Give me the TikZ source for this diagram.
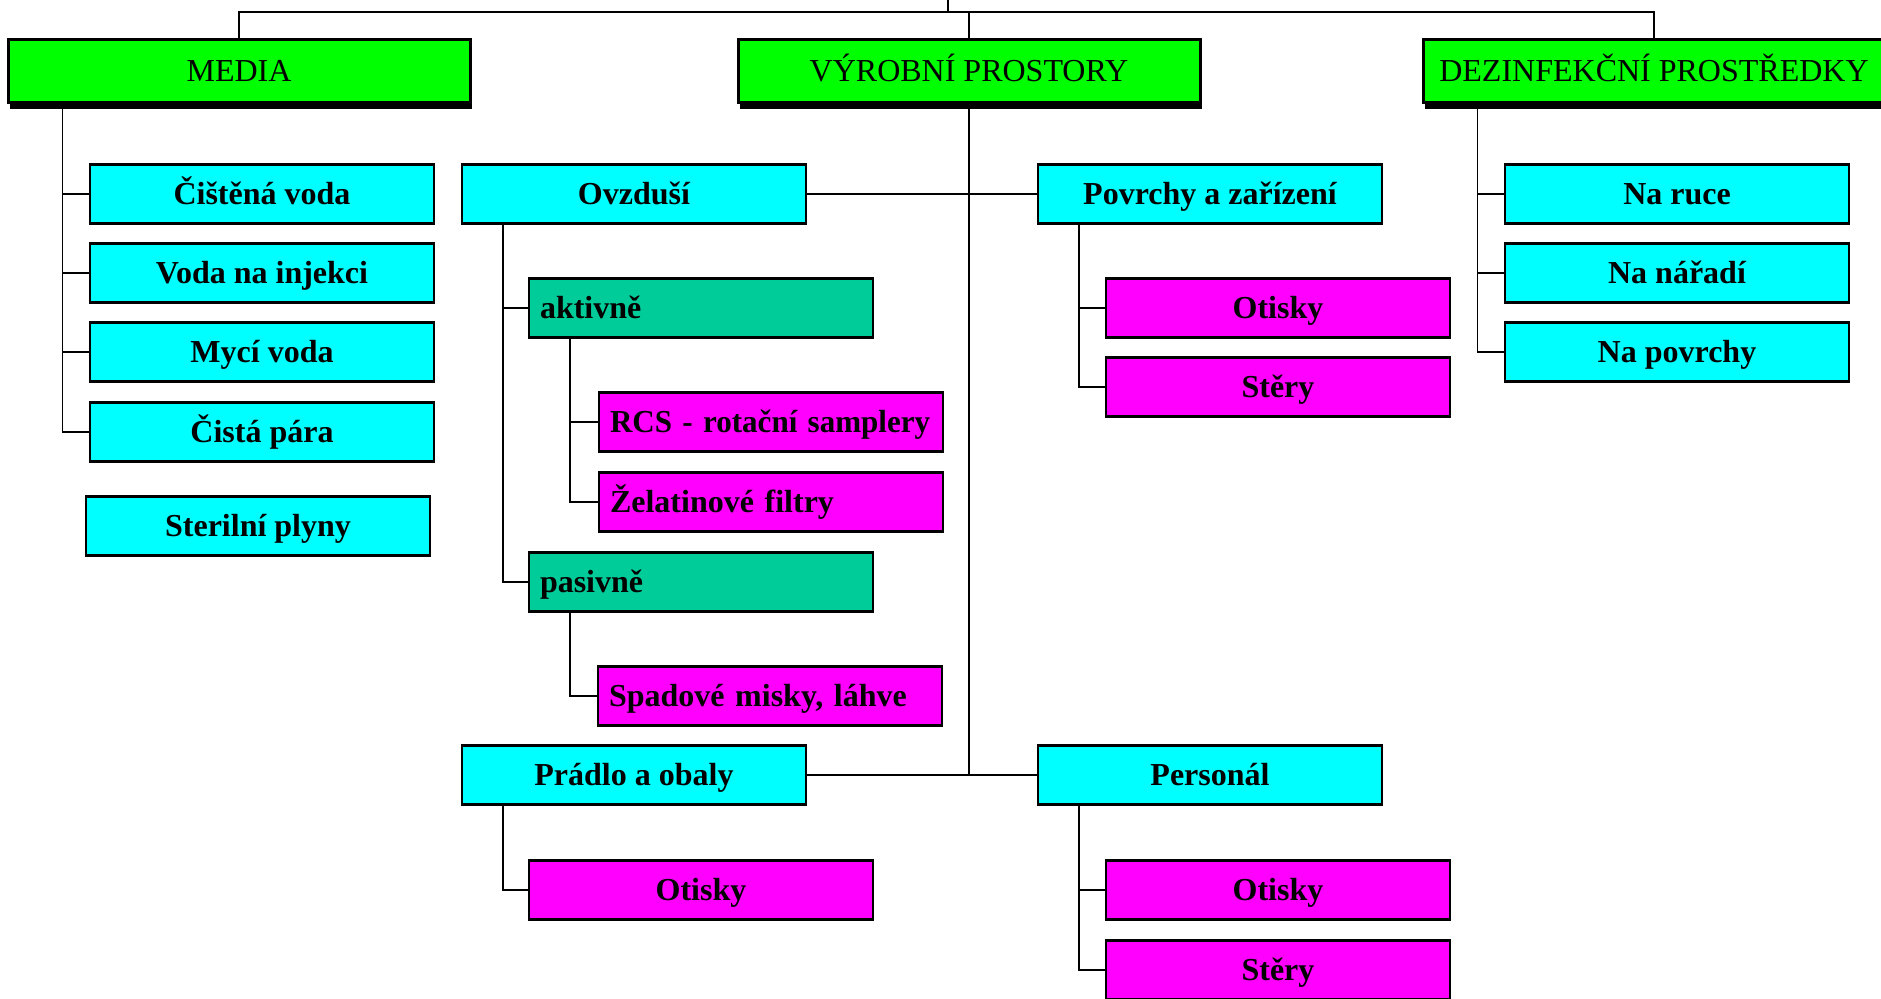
\documentclass[tikz,border=0pt]{standalone}
\usepackage{fontspec}
\setmainfont{Liberation Serif}
\usepackage{tikz}
\usetikzlibrary{calc,positioning,shadows}

\definecolor{hlavni}{RGB}{0,255,0}
\definecolor{tyrkys}{RGB}{0,255,255}
\definecolor{zelena}{RGB}{0,204,153}
\definecolor{fialova}{RGB}{255,0,255}

\begin{document}
\begin{tikzpicture}[x=0.5pt,y=-0.5pt]
			\tikzset{head box/.style={draw,line width=1.5pt,fill=hlavni,minimum width=231pt,minimum height=31.5pt,inner sep=0pt,text height=12.2pt,text depth=2pt,font=\fontsize{16}{19}\selectfont,general shadow={fill=black,shadow xshift=1pt,shadow yshift=-3.5pt}},
				item box/.style={draw,line width=1.1pt,fill=#1,minimum width=172pt,minimum height=29.5pt,inner sep=0pt,text height=12.5pt,text depth=2pt,font=\fontsize{16}{19}\selectfont\bfseries,general shadow={fill=black,shadow xshift=0.4pt,shadow yshift=-0.4pt}},
				left box/.style={item box=#1,text width=161pt,align=left,inner xsep=5.5pt},
				spoj/.style={line width=0.9pt}}
			\useasboundingbox (0,0) rectangle (1881,999);
			% hlavni vetve
			\node [head box] (media) at (239,71) {MEDIA};
			\node [head box] (vyroba) at (969,71) {VÝROBNÍ PROSTORY};
			\node [head box] (dezinf) at (1654,71) {DEZINFEKČNÍ PROSTŘEDKY};
			% media
			\node [item box=tyrkys] (cistena) at (262,194) {Čištěná voda};
			\node [item box=tyrkys] (injekce) at (262,273) {Voda na injekci};
			\node [item box=tyrkys] (myci) at (262,352) {Mycí voda};
			\node [item box=tyrkys] (para) at (262,432) {Čistá pára};
			\node [item box=tyrkys] (sterilni) at (258,526) {Sterilní plyny};
			% vyrobni prostory
			\node [item box=tyrkys] (ovzdusi) at (634,194) {Ovzduší};
			\node [item box=tyrkys] (povrchy) at (1210,194) {Povrchy a zařízení};
			\node [left box=zelena] (aktivne) at (701,308) {aktivně};
			\node [left box=fialova] (rcs) at (771,422) {\mbox{\scalebox{0.97}[1]{RCS - rotační samplery}}};
			\node [left box=fialova] (zelatina) at (771,502) {Želatinové filtry};
			\node [left box=zelena] (pasivne) at (701,582) {pasivně};
			\node [left box=fialova] (spadove) at (770,696) {Spadové misky, láhve};
			\node [item box=fialova] (otiskyS) at (1278,308) {Otisky};
			\node [item box=fialova] (steryS) at (1278,387) {Stěry};
			\node [item box=tyrkys] (pradlo) at (634,775) {Prádlo a obaly};
			\node [item box=tyrkys] (personal) at (1210,775) {Personál};
			\node [item box=fialova] (otiskyP) at (701,890) {Otisky};
			\node [item box=fialova] (otiskyO) at (1278,890) {Otisky};
			\node [item box=fialova] (steryO) at (1278,970) {Stěry};
			% dezinfekce
			\node [item box=tyrkys] (ruce) at (1677,194) {Na ruce};
			\node [item box=tyrkys] (naradi) at (1677,273) {Na nářadí};
			\node [item box=tyrkys] (povrchyD) at (1677,352) {Na povrchy};
			% spoje
			\coordinate (koren) at (948,0);
			\coordinate (lista) at (948,12);
			\draw [spoj] (koren) -- (lista);
			\foreach \n in {media,vyroba,dezinf}
				\draw [spoj] (lista) -| (\n.north);
			\foreach \n in {cistena,injekce,myci,para}
				\draw [spoj] ([xshift=28pt]media.south west) |- (\n.west);
			\foreach \n in {ruce,naradi,povrchyD}
				\draw [spoj] ([xshift=28pt]dezinf.south west) |- (\n.west);
			\draw [spoj] (vyroba.south) -- (vyroba.south |- pradlo.east);
			\draw [spoj] (ovzdusi.east) -- (povrchy.west);
			\draw [spoj] (pradlo.east) -- (personal.west);
			\foreach \n in {aktivne,pasivne}
				\draw [spoj] ([xshift=21pt]ovzdusi.south west) |- (\n.west);
			\foreach \n in {rcs,zelatina}
				\draw [spoj] ([xshift=21pt]aktivne.south west) |- (\n.west);
			\draw [spoj] ([xshift=21pt]pasivne.south west) |- (spadove.west);
			\foreach \n in {otiskyS,steryS}
				\draw [spoj] ([xshift=21pt]povrchy.south west) |- (\n.west);
			\draw [spoj] ([xshift=21pt]pradlo.south west) |- (otiskyP.west);
			\foreach \n in {otiskyO,steryO}
				\draw [spoj] ([xshift=21pt]personal.south west) |- (\n.west);
		\end{tikzpicture}
\end{document}
